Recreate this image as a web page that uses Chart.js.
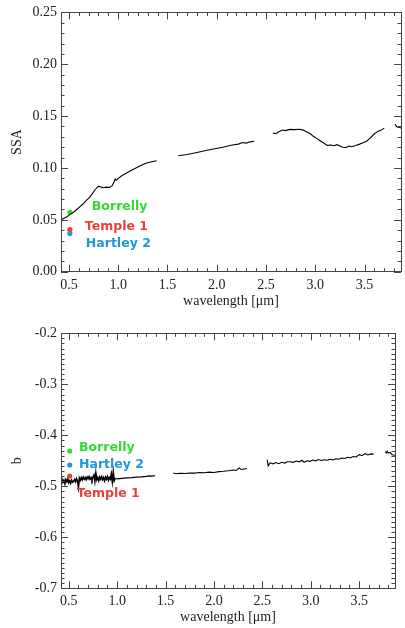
<!DOCTYPE html>
<html>
<head>
<meta charset="utf-8">
<script src="https://cdn.jsdelivr.net/npm/chart.js@4/dist/chart.umd.min.js"></script>
<style>
  html, body { margin: 0; padding: 0; background: #fff; }
  #wrap { position: relative; width: 405px; height: 628px; overflow: hidden; }
  canvas { position: absolute; left: 0; }
  #ssaChart { top: 0; }
  #bChart { top: 310px; }
</style>
</head>
<body>
<div id="wrap">
  <canvas id="ssaChart" width="405" height="310"></canvas>
  <canvas id="bChart" width="405" height="318"></canvas>
</div>
<script>
// comet points (same wavelength for all three)
const cometNames = ['Borrelly', 'Temple 1', 'Hartley 2'];
const cometWave = [0.51, 0.51, 0.51];
const cometSSA = [0.0573, 0.0407, 0.0369];
const cometB = [-0.4308, -0.4798, -0.4582];
const cometColors = ['#2fdc2f', '#e8413a', '#1f97dc'];

// SSA spectrum (null = gap between detector segments)
const ssaWave = [
  0.42, 0.45, 0.48, 0.51, 0.55, 0.58, 0.61, 0.64, 0.67, 0.71, 0.74, 0.77, 0.80, 0.82, 0.85,
  0.88, 0.91, 0.94, 0.96, 0.97, 0.98, 1.00, 1.04, 1.09, 1.15, 1.22, 1.28, 1.34, 1.39,
  1.50,
  1.61, 1.70, 1.80, 1.89, 1.98, 2.06, 2.16, 2.22, 2.26, 2.30, 2.34, 2.38,
  2.48,
  2.57, 2.60, 2.63, 2.67, 2.70, 2.74, 2.79, 2.84, 2.88, 2.91, 2.95, 2.98, 3.01, 3.05, 3.09,
  3.12, 3.16, 3.19, 3.22, 3.25, 3.28, 3.31, 3.34, 3.37, 3.41, 3.45, 3.49, 3.52, 3.56, 3.60,
  3.64, 3.67, 3.70,
  3.75,
  3.81, 3.82, 3.83, 3.85, 3.87, 3.88
];
const ssaVal = [
  0.0500, 0.0515, 0.0530, 0.0550, 0.0575, 0.0600, 0.0625, 0.0650, 0.0680, 0.0716, 0.0755, 0.0795, 0.0825, 0.0818, 0.0810,
  0.0815, 0.0812, 0.0830, 0.0870, 0.0895, 0.0880, 0.0900, 0.0928, 0.0955, 0.0985, 0.1020, 0.1045, 0.1060, 0.1070,
  null,
  0.1118, 0.1130, 0.1150, 0.1168, 0.1185, 0.1200, 0.1222, 0.1230, 0.1245, 0.1240, 0.1252, 0.1258,
  null,
  0.1336, 0.1330, 0.1350, 0.1366, 0.1360, 0.1372, 0.1370, 0.1374, 0.1365, 0.1350, 0.1330, 0.1305, 0.1288, 0.1262, 0.1238,
  0.1218, 0.1222, 0.1215, 0.1225, 0.1213, 0.1200, 0.1195, 0.1212, 0.1205, 0.1216, 0.1230, 0.1245, 0.1258, 0.1290, 0.1330,
  0.1355, 0.1365, 0.1384,
  null,
  0.1425, 0.1405, 0.1395, 0.1392, 0.1385, 0.1380
];

// asymmetry parameter b
const bWave = [
  0.42, 0.43, 0.44, 0.45, 0.46, 0.47, 0.48, 0.49, 0.50, 0.51, 0.52, 0.53, 0.54, 0.55, 0.56,
  0.57, 0.58, 0.59, 0.60, 0.61, 0.62, 0.63, 0.64, 0.65, 0.66, 0.67, 0.68, 0.69, 0.70, 0.71,
  0.72, 0.73, 0.74, 0.75, 0.76, 0.77, 0.78, 0.79, 0.80, 0.81, 0.82, 0.83, 0.84, 0.85, 0.86,
  0.87, 0.88, 0.89, 0.90, 0.91, 0.92, 0.93, 0.94, 0.95, 0.96, 0.97, 0.98,
  1.00, 1.05, 1.10, 1.15, 1.20, 1.25, 1.30, 1.33, 1.36, 1.39,
  1.48,
  1.58, 1.61, 1.65, 1.70, 1.75, 1.80, 1.85, 1.90, 1.95, 2.00, 2.05, 2.10, 2.15, 2.20, 2.23,
  2.26, 2.28, 2.31, 2.34,
  2.45,
  2.55, 2.56, 2.58, 2.61, 2.64, 2.67, 2.70, 2.73, 2.76, 2.79, 2.82, 2.85, 2.88, 2.91, 2.93,
  2.96, 2.99, 3.02, 3.05, 3.08, 3.11, 3.14, 3.17, 3.20, 3.23, 3.26, 3.29, 3.32, 3.35, 3.38,
  3.41, 3.44, 3.47, 3.50, 3.53, 3.56, 3.59, 3.62, 3.65,
  3.71,
  3.77, 3.78, 3.79, 3.80, 3.82, 3.84, 3.87
];
const bVal = [
  -0.489, -0.486, -0.492, -0.488, -0.495, -0.487, -0.491, -0.486, -0.493, -0.489, -0.494, -0.488, -0.492, -0.490, -0.487,
  -0.491, -0.485, -0.489, -0.502, -0.484, -0.488, -0.483, -0.487, -0.482, -0.486, -0.483, -0.487, -0.482, -0.485, -0.481,
  -0.486, -0.483, -0.488, -0.482, -0.478, -0.490, -0.474, -0.487, -0.483, -0.489, -0.482, -0.486, -0.481, -0.487, -0.483,
  -0.489, -0.482, -0.486, -0.481, -0.488, -0.483, -0.486, -0.476, -0.491, -0.472, -0.489, -0.484,
  -0.4855, -0.4845, -0.4835, -0.4830, -0.4820, -0.4815, -0.4805, -0.4795, -0.4800, -0.4790,
  null,
  -0.4740, -0.4755, -0.4745, -0.4750, -0.4738, -0.4742, -0.4730, -0.4735, -0.4722, -0.4728, -0.4712, -0.4705, -0.4695, -0.4680, -0.4690,
  -0.4640, -0.4670, -0.4660, -0.4650,
  null,
  -0.4480, -0.4600, -0.4540, -0.4560, -0.4535, -0.4558, -0.4530, -0.4545, -0.4520, -0.4518, -0.4530, -0.4505, -0.4520, -0.4490, -0.4530,
  -0.4500, -0.4510, -0.4485, -0.4500, -0.4475, -0.4495, -0.4480, -0.4490, -0.4470, -0.4484, -0.4460, -0.4470, -0.4445, -0.4455, -0.4430,
  -0.4440, -0.4415, -0.4425, -0.4380, -0.4400, -0.4360, -0.4385, -0.4365, -0.4370,
  null,
  -0.4320, -0.4345, -0.4310, -0.4350, -0.4335, -0.4380, -0.4390
];

const serif = '"Liberation Serif", "DejaVu Serif", serif';

// IDL-style frame: box with inward major/minor ticks on all four sides
const frameTicks = {
  id: 'frameTicks',
  afterDatasetsDraw(chart, args, opts) {
    const { ctx, chartArea: a } = chart;
    ctx.save();
    ctx.strokeStyle = '#444';
    ctx.lineWidth = 1;
    ctx.beginPath();
    const tick = (scale, step, every, horiz) => {
      const k0 = Math.ceil(scale.min / step - 1e-6);
      const k1 = Math.floor(scale.max / step + 1e-6);
      for (let k = k0; k <= k1; k++) {
        const len = (k % every === 0) ? 7 : 3.5;
        const p = Math.round(scale.getPixelForValue(k * step)) + 0.5;
        if (horiz) {
          ctx.moveTo(p, a.bottom); ctx.lineTo(p, a.bottom - len);
          ctx.moveTo(p, a.top); ctx.lineTo(p, a.top + len);
        } else {
          ctx.moveTo(a.left, p); ctx.lineTo(a.left + len, p);
          ctx.moveTo(a.right, p); ctx.lineTo(a.right - len, p);
        }
      }
    };
    tick(chart.scales.x, opts.xStep, opts.xEvery, true);
    tick(chart.scales.y, opts.yStep, opts.yEvery, false);
    ctx.stroke();
    ctx.strokeRect(Math.round(a.left) + 0.5, Math.round(a.top) + 0.5,
      Math.round(a.width), Math.round(a.height));
    ctx.restore();
  }
};

// comet name labels placed in data coordinates
const cometLabels = {
  id: 'cometLabels',
  afterDatasetsDraw(chart, args, opts) {
    const { ctx } = chart;
    ctx.save();
    ctx.font = 'bold 12.5px "DejaVu Sans"';
    ctx.textBaseline = 'middle';
    ctx.textAlign = 'left';
    opts.pos.forEach((p, i) => {
      ctx.fillStyle = cometColors[i];
      ctx.fillText(cometNames[i], chart.scales.x.getPixelForValue(p[0]),
        chart.scales.y.getPixelForValue(p[1]));
    });
    ctx.restore();
  }
};

function makeChart(id, wave, vals, cometVals, s) {
  const points = wave.map((w, i) => ({ x: w, y: vals[i] }));
  const dots = cometNames.map((n, i) => ({
    type: 'scatter',
    label: n,
    data: [{ x: cometWave[i], y: cometVals[i] }],
    backgroundColor: cometColors[i],
    borderWidth: 0,
    pointRadius: 2.6
  }));
  return new Chart(document.getElementById(id), {
    type: 'line',
    data: {
      datasets: [{
        label: s.yTitle,
        data: points,
        borderColor: '#000',
        borderWidth: 1.1,
        pointRadius: 0,
        tension: 0,
        spanGaps: false,
        segment: {
          borderWidth: c => (s.thickNoise && c.p1.parsed.x <= 0.98) ? 1.6 : 1.1
        }
      }, ...dots]
    },
    options: {
      responsive: false,
      animation: false,
      layout: { padding: s.pad },
      plugins: {
        legend: { display: false },
        tooltip: { enabled: false },
        frameTicks: s.ticks,
        cometLabels: { pos: s.labelPos }
      },
      scales: {
        x: {
          type: 'linear',
          min: 0.42,
          max: 3.87,
          grid: { display: false, drawTicks: false },
          border: { display: false },
          ticks: {
            stepSize: 0.5,
            includeBounds: false,
            maxRotation: 0,
            autoSkip: false,
            padding: 5,
            color: '#222',
            font: { family: serif, size: 14 },
            callback: v => v.toFixed(1)
          },
          title: {
            display: true,
            text: 'wavelength [μm]',
            color: '#222',
            font: { family: serif, size: 14 },
            padding: { top: 0, bottom: s.xTitlePad }
          },
          afterFit: sc => { sc.height = s.xAxisH; }
        },
        y: {
          type: 'linear',
          min: s.yMin,
          max: s.yMax,
          grid: { display: false, drawTicks: false },
          border: { display: false },
          ticks: {
            stepSize: s.yStep,
            padding: 4,
            color: '#222',
            font: { family: serif, size: 14 },
            callback: v => v.toFixed(s.yDec)
          },
          title: {
            display: true,
            text: s.yTitle,
            color: '#222',
            font: { family: serif, size: 14 },
            padding: { top: 8.5, bottom: 0 }
          },
          afterFit: sc => { sc.width = 61; }
        }
      }
    },
    plugins: [frameTicks, cometLabels]
  });
}

makeChart('ssaChart', ssaWave, ssaVal, cometSSA, {
  yTitle: 'SSA', yMin: 0, yMax: 0.25, yStep: 0.05, yDec: 2,
  pad: { left: 0, right: 2, top: 9.6, bottom: 0 },
  xAxisH: 38.3, xTitlePad: 0.6, thickNoise: false,
  ticks: { xStep: 0.1, xEvery: 5, yStep: 0.01, yEvery: 5 },
  labelPos: [[0.733, 0.0627], [0.662, 0.0429], [0.672, 0.0271]]
});

makeChart('bChart', bWave, bVal, cometB, {
  yTitle: 'b', yMin: -0.7, yMax: -0.2, yStep: 0.1, yDec: 1,
  pad: { left: 0, right: 10, top: 23.3, bottom: 0 },
  xAxisH: 39.7, xTitlePad: 2.6, thickNoise: true,
  ticks: { xStep: 0.1, xEvery: 5, yStep: 0.01, yEvery: 10 },
  labelPos: [[0.606, -0.4235], [0.582, -0.5137], [0.606, -0.4569]]
});
</script>
</body>
</html>
